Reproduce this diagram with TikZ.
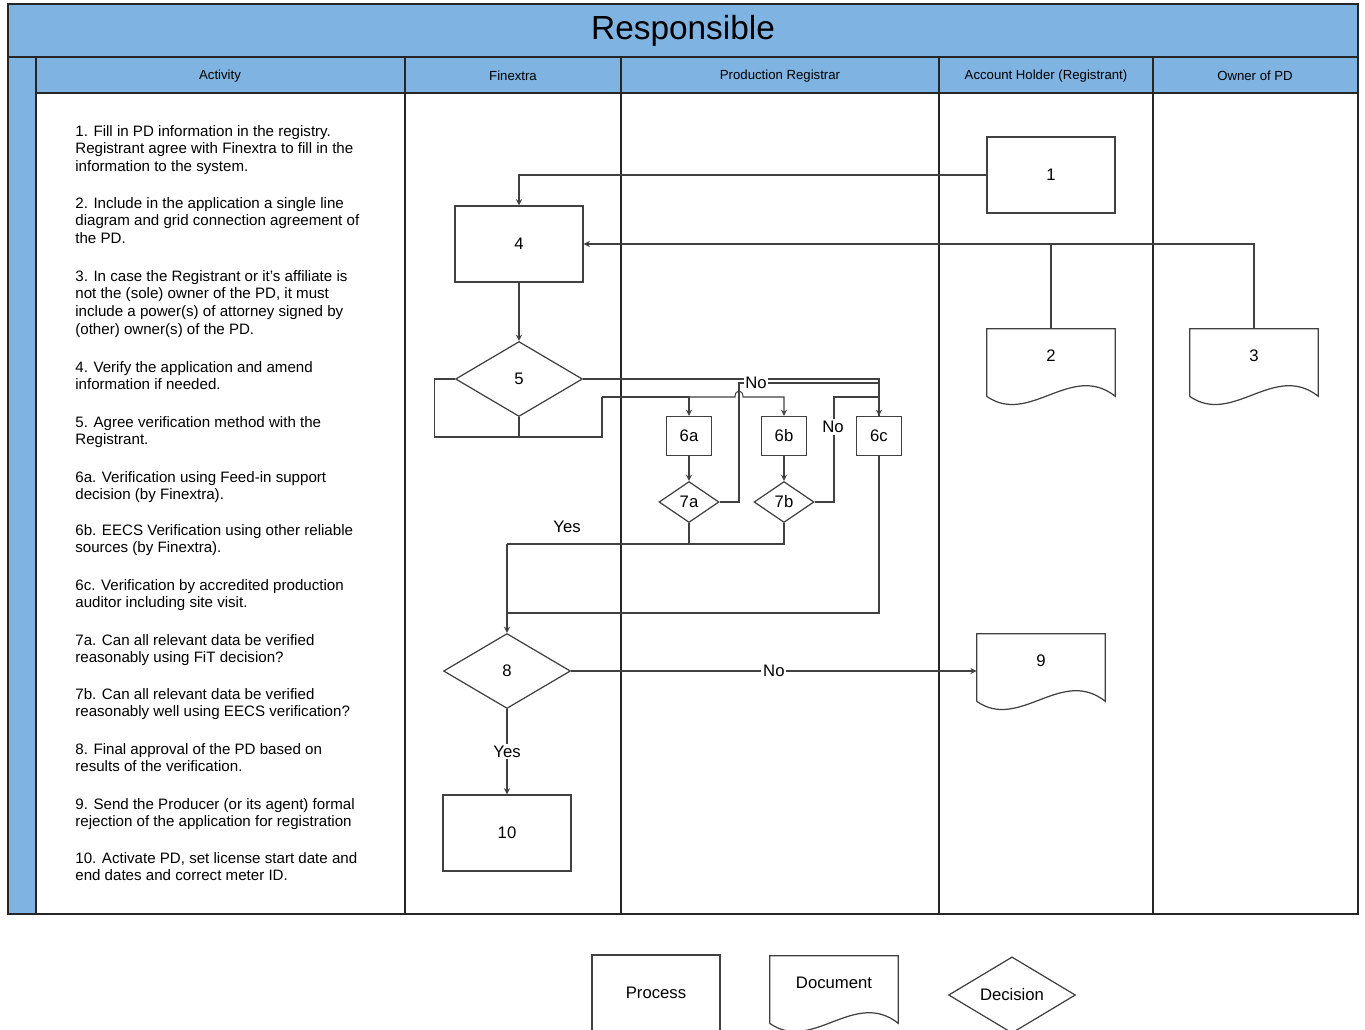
\documentclass[tikz,border=0pt]{standalone}
\usepackage{fontspec}
\setmainfont{Liberation Sans}
\usetikzlibrary{shapes.geometric, arrows, calc}
\definecolor{laneblue}{RGB}{127,179,225}
\definecolor{linegray}{RGB}{64,64,64}

\begin{document}
\begin{tikzpicture}[x=0.02cm, y=-0.02cm,
    box/.style={rectangle, draw=linegray, line width=0.7pt, minimum width=2.56cm, minimum height=1.52cm, font=\fontsize{9.5}{11}\selectfont},
    small/.style={box, minimum width=0.9cm, minimum height=0.78cm},
    decision/.style={diamond, draw=linegray, line width=0.7pt, inner sep=0pt, minimum width=2.54cm, minimum height=1.5cm, font=\fontsize{9.5}{11}\selectfont},
    smalldec/.style={decision, minimum width=1.2cm, minimum height=0.82cm},
    doc/.style={minimum width=2.56cm, minimum height=1.08cm, font=\fontsize{9.5}{11}\selectfont,
        append after command={\pgfextra{\draw[draw=linegray, line width=0.7pt]
            ($(\tikzlastnode.south west)+(0,-0.26cm)$) -- (\tikzlastnode.north west) -- (\tikzlastnode.north east)
            -- ($(\tikzlastnode.south east)+(0,-0.26cm)$)
            .. controls ($(\tikzlastnode.south east)+(-0.88cm,0.44cm)$) and ($(\tikzlastnode.south west)+(0.86cm,-0.86cm)$)
            .. ($(\tikzlastnode.south west)+(0,-0.26cm)$);}}},
    line/.style={draw=linegray, line width=0.6pt},
    arr/.style={line, -stealth},
    lbl/.style={fill=white, inner sep=1pt, font=\fontsize{9.5}{11}\selectfont},
    head/.style={font=\fontsize{7.5}{9}\selectfont},
    item/.style={anchor=north west, align=left, inner sep=0pt, font=\fontsize{8.6}{10}\selectfont}]
    \useasboundingbox (0,0) rectangle (1365,1029);

    % Lanes
    \fill[laneblue] (8,4) rectangle (1358,93);
    \fill[laneblue] (8,93) rectangle (36,914);
    \draw[line width=1.1pt, draw=black!85] (8,4) rectangle (1358,914);
    \draw[line width=1.1pt, draw=black!85] (8,57) -- (1358,57);
    \draw[line width=1.1pt, draw=black!85] (36,93) -- (1358,93);
    \draw[line width=1.1pt, draw=black!85] (36,57) -- (36,914);
    \foreach \x in {405,621,939,1153}
        \draw[line width=1.1pt, draw=black!85] (\x,57) -- (\x,914);
    \node[font=\fontsize{19}{22}\selectfont] (title) at (683,31) {Responsible};
    \node[head] (hact) at (220,76) {Activity};
    \node[head] (hfin) at (513,76) {Finextra};
    \node[head] (hprod) at (780,76) {Production Registrar};
    \node[head] (hacc) at (1046,76) {Account Holder (Registrant)};
    \node[head] (hown) at (1255,76) {Owner of PD};

    % Activities
    \node[item] (a1) at (75,125) {1. Fill in PD information in the registry.\\ Registrant agree with Finextra to fill in the\\ information to the system.};
    \node[item] (a2) at (75,197) {2. Include in the application a single line\\ diagram and grid connection agreement of\\ the PD.};
    \node[item] (a3) at (75,270) {3. In case the Registrant or it's affiliate is\\ not the (sole) owner of the PD, it must\\ include a power(s) of attorney signed by\\ (other) owner(s) of the PD.};
    \node[item] (a4) at (75,361) {4. Verify the application and amend\\ information if needed.};
    \node[item] (a5) at (75,416) {5. Agree verification method with the\\ Registrant.};
    \node[item] (a6a) at (75,471) {6a. Verification using Feed-in support\\ decision (by Finextra).};
    \node[item] (a6b) at (75,524) {6b. EECS Verification using other reliable\\ sources (by Finextra).};
    \node[item] (a6c) at (75,579) {6c. Verification by accredited production\\ auditor including site visit.};
    \node[item] (a7a) at (75,634) {7a. Can all relevant data be verified\\ reasonably using FiT decision?};
    \node[item] (a7b) at (75,688) {7b. Can all relevant data be verified\\ reasonably well using EECS verification?};
    \node[item] (a8) at (75,743) {8. Final approval of the PD based on\\ results of the verification.};
    \node[item] (a9) at (75,798) {9. Send the Producer (or its agent) formal\\ rejection of the application for registration};
    \node[item] (a10) at (75,852) {10. Activate PD, set license start date and\\ end dates and correct meter ID.};

    % Vertices
    \node[box] (1) at (1051,175) {1};
    \node[box] (4) at (519,244) {4};
    \node[doc] (2) at (1051,356) {2};
    \node[doc] (3) at (1254,356) {3};
    \node[decision] (5) at (519,379) {5};
    \node[small] (6a) at (689,436) {6a};
    \node[small] (6b) at (784,436) {6b};
    \node[small] (6c) at (879,436) {6c};
    \node[smalldec] (7a) at (689,502) {7a};
    \node[smalldec] (7b) at (784,502) {7b};
    \node[decision] (8) at (507,671) {8};
    \node[doc] (9) at (1041,661) {9};
    \node[box] (10) at (507,833) {10};
    \coordinate (split) at (602,397);
    \coordinate (hop) at (739,397);
    \coordinate (noa) at (739,383);
    \coordinate (nob) at (834,397);
    \coordinate (yes) at (507,544);
    \coordinate (back) at (507,613);

    % Edges
    \draw[arr] (1.west) -| (4.north);
    \draw[arr] (2.north) |- (4.east);
    \draw[line] (3.north) |- (2.north |- 4.east);
    \draw[arr] (4) -- (5);
    \draw[line] (5.west) -- ++(-20,0) -- ++(0,58) -| (split);
    \draw[line] (5.south) -- ++(0,21);
    \draw[arr] (split) -| (6a.north);
    \draw[arr] (6a.north |- split) -- ($(hop)+(-4,0)$) .. controls ($(hop)+(-4,-8)$) and ($(hop)+(4,-8)$) .. ($(hop)+(4,0)$) -| (6b.north);
    \draw[arr] (5.east) -| (6c.north);
    \draw[arr] (6a) -- (7a);
    \draw[arr] (6b) -- (7b);
    \draw[line] (7a.east) -| (noa) -| (6c.north);
    \node[lbl] (noalbl) at (756,383) {No};
    \draw[line] (7b.east) -| (nob) -- (nob -| 6c.north);
    \node[lbl] (noblbl) at (833,427) {No};
    \draw[line] (7b.south) |- (yes);
    \draw[line] (7a.south) -- (7a.south |- yes);
    \draw[arr] (yes) -- (8.north);
    \node[lbl] (yeslbl) at (567,527) {Yes};
    \draw[line] (6c.south) |- (back);
    \draw[arr] (8.east) -- node[lbl] {No} (8.east -| 9.west);
    \draw[arr] (8.south) -- node[lbl] {Yes} (10.north);

    % Legend
    \node[box] (lproc) at (656,993) {Process};
    \node[doc] (ldoc) at (834,983) {Document};
    \node[decision] (ldec) at (1012,995) {Decision};
\end{tikzpicture}
\end{document}
